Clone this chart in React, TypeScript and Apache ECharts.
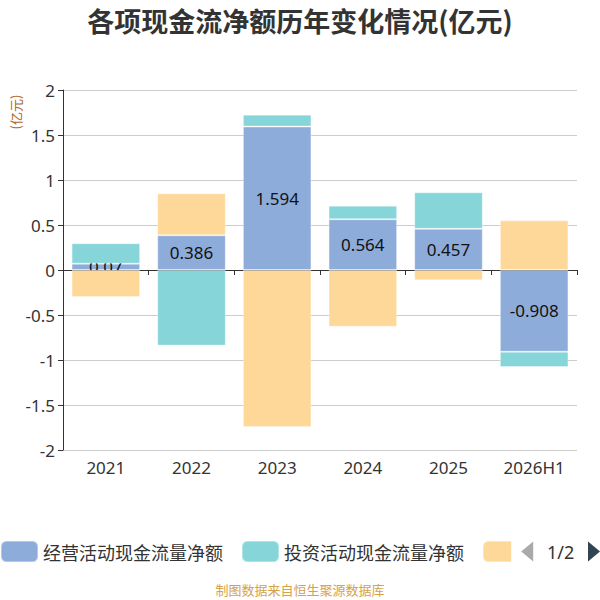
import React, { useEffect, useRef } from "react";
import * as echarts from "echarts";

const categories = ["2021", "2022", "2023", "2024", "2025", "2026H1"];
const operating = [0.07, 0.386, 1.594, 0.564, 0.457, -0.908];
const investing = [0.227, -0.84, 0.132, 0.151, 0.406, -0.17];
const financing = [-0.3, 0.466, -1.745, -0.63, -0.115, 0.552];
const seriesNames = ["经营活动现金流量净额", "投资活动现金流量净额", "筹资活动现金流量净额"];
const colors = ["#8eacd9", "#86d5d9", "#fed898"];

const FONT = "'Noto Sans', 'Noto Sans CJK SC', sans-serif";
const CJK = "'Noto Sans CJK SC', sans-serif";

export default function App() {
  const ref = useRef<HTMLDivElement>(null);
  useEffect(() => {
    if (!ref.current) return;
    const chart = echarts.init(ref.current, null, { renderer: "svg" });
    const mk = (i: number, data: number[], z: number, label: boolean) => ({
      name: seriesNames[i],
      type: "bar",
      stack: "total",
      data,
      z,
      barWidth: "80%",
      itemStyle: { color: colors[i], borderColor: "rgba(255,255,255,0.35)", borderWidth: 1 },
      label: label
        ? { show: true, position: "inside", color: "#111", fontSize: 17, fontFamily: FONT }
        : { show: false },
    });
    chart.setOption({
      animation: false,
      textStyle: { fontFamily: FONT },
      title: {
        text: "各项现金流净额历年变化情况(亿元)",
        left: "center",
        top: 2,
        textStyle: { fontSize: 27, fontWeight: "bold", color: "#333", fontFamily: CJK },
      },
      legend: {
        type: "scroll",
        left: 0,
        right: -2,
        top: 540,
        padding: 0,
        itemWidth: 37,
        itemHeight: 21,
        itemGap: 18,
        icon: "roundRect",
        textStyle: { fontSize: 18, color: "#333", fontFamily: CJK },
        pageTextStyle: { fontSize: 18, color: "#333", fontFamily: FONT },
        pageIconSize: 20,
        pageButtonGap: 10,
        pageButtonItemGap: 5,
        pageIconColor: "#2f4554",
        pageIconInactiveColor: "#aaa",
        data: seriesNames,
      },
      grid: { left: 63, right: 23, top: 90, bottom: 150 },
      xAxis: [
        {
          type: "category",
          data: categories,
          position: "bottom",
          axisLine: { show: false, onZero: false },
          axisTick: { show: false },
          axisLabel: { fontSize: 17, color: "#333", margin: 9 },
        },
        {
          type: "category",
          data: categories,
          position: "bottom",
          axisLine: { show: true, onZero: true, lineStyle: { color: "#333" } },
          axisTick: { show: true, length: 5, lineStyle: { color: "#333" } },
          axisLabel: { show: false },
        },
      ],
      yAxis: {
        type: "value",
        min: -2,
        max: 2,
        interval: 0.5,
        axisLine: { show: true, lineStyle: { color: "#333" } },
        axisTick: { show: true, length: 5, lineStyle: { color: "#333" } },
        axisLabel: { fontSize: 17, color: "#333", margin: 8 },
        splitLine: { lineStyle: { color: "#ccc" } },
      },
      graphic: [
        {
          type: "text",
          x: 15,
          y: 112,
          rotation: Math.PI / 2,
          style: {
            text: "(亿元)",
            fontSize: 13,
            fill: "#b0632a",
            align: "center",
            verticalAlign: "middle",
            fontFamily: CJK,
          },
        },
        {
          type: "text",
          left: "center",
          top: 583,
          style: {
            text: "制图数据来自恒生聚源数据库",
            fontSize: 13,
            fill: "#d5a248",
            fontFamily: CJK,
          },
        },
      ],
      series: [mk(0, operating, 1, true), mk(1, investing, 2, false), mk(2, financing, 2, false)],
    });
    return () => chart.dispose();
  }, []);
  return <div ref={ref} style={{ width: 600, height: 600, position: "absolute", left: 0, top: 0 }} />;
}
